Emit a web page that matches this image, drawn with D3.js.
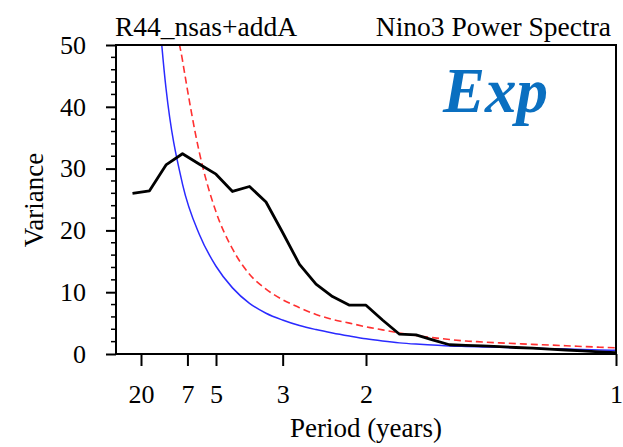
<!DOCTYPE html>
<html lang="en">
<head>
<meta charset="UTF-8">
<title>Nino3 Power Spectra</title>
<script src="https://cdn.jsdelivr.net/npm/d3@7"></script>
<style>
    body { margin: 0; background: #fff; }
    svg text { font-family: "Liberation Serif", "Times New Roman", Times, "DejaVu Serif", serif !important; fill: #000; }
</style>
</head>
<body>
<div id="chart"></div>
<script>
// frequency (cycles/year) of each spectral estimate
const freq = [0.033, 0.067, 0.100, 0.133, 0.167, 0.200, 0.233, 0.267, 0.300, 0.333,
              0.367, 0.400, 0.433, 0.467, 0.500, 0.533, 0.567, 0.600, 0.633, 0.667,
              0.700, 0.733, 0.767, 0.800, 0.833, 0.867, 0.900, 0.933, 0.967, 1.000];

// model spectrum (black)
const spectrum = [26.0, 26.4, 30.6, 32.4, 30.7, 29.1, 26.3, 27.1, 24.6, 19.7,
                  14.5, 11.3, 9.3, 7.9, 7.9, 5.5, 3.2, 3.1, 2.3, 1.5,
                  1.4, 1.3, 1.2, 1.05, 0.95, 0.8, 0.65, 0.5, 0.35, 0.2];

// red noise spectrum (blue); first value above the plot
const redNoise = [null, 75, 43, 27.5, 19.3, 14.2, 10.7, 8.2, 6.6, 5.5,
                  4.6, 3.95, 3.4, 2.9, 2.45, 2.1, 1.8, 1.6, 1.45, 1.3,
                  1.22, 1.15, 1.08, 1.0, 0.93, 0.86, 0.8, 0.72, 0.66, 0.6];

// 95% confidence (red dashed)
const conf95 = [null, 130, 65, 47.5, 32.5, 23, 17.0, 12.9, 10.5, 8.8,
                7.5, 6.4, 5.6, 5.0, 4.4, 3.9, 3.4, 3.0, 2.65, 2.35,
                2.1, 1.95, 1.8, 1.68, 1.56, 1.45, 1.34, 1.22, 1.1, 1.0];

const periodTicks = [20, 7, 5, 3, 2, 1];
const varTicks = [0, 10, 20, 30, 40, 50];
const varMinor = [2, 4, 6, 8, 12, 14, 16, 18, 22, 24, 26, 28, 32, 34, 36, 38, 42, 44, 46, 48];

const W = 623, H = 447;
const m = { left: 116, right: 616, top: 45, bottom: 354 };
const serif = "'Liberation Serif', 'Times New Roman', Times, 'DejaVu Serif', serif";

const svg = d3.select("#chart").append("svg")
    .attr("width", W)
    .attr("height", H)
    .attr("font-family", serif);

const x = d3.scaleLinear().domain([0, 1]).range([m.left, m.right]);
const y = d3.scaleLinear().domain([0, 50]).range([m.bottom, m.top]);

svg.append("defs").append("clipPath")
    .attr("id", "plotClip")
    .append("rect")
    .attr("x", m.left).attr("y", m.top)
    .attr("width", m.right - m.left).attr("height", m.bottom - m.top);

const plot = svg.append("g").attr("clip-path", "url(#plotClip)");

function lineFor(values, curve) {
    return d3.line()
        .defined((d, i) => values[i] != null)
        .x((d, i) => x(freq[i]))
        .y((d, i) => y(values[i]))
        .curve(curve)(values);
}

plot.append("path")
    .attr("d", lineFor(redNoise, d3.curveMonotoneX))
    .attr("fill", "none")
    .attr("stroke", "#2a2aff")
    .attr("stroke-width", 1.5);

plot.append("path")
    .attr("d", lineFor(conf95, d3.curveMonotoneX))
    .attr("fill", "none")
    .attr("stroke", "#ff3030")
    .attr("stroke-width", 1.6)
    .attr("stroke-dasharray", "7,4");

plot.append("path")
    .attr("d", lineFor(spectrum, d3.curveLinear))
    .attr("fill", "none")
    .attr("stroke", "#000")
    .attr("stroke-width", 2.8)
    .attr("stroke-linejoin", "round");

// frame
svg.append("rect")
    .attr("x", m.left).attr("y", m.top)
    .attr("width", m.right - m.left).attr("height", m.bottom - m.top)
    .attr("fill", "none")
    .attr("stroke", "#000")
    .attr("stroke-width", 2);

// y axis
const yAxis = svg.append("g").attr("transform", `translate(${m.left},0)`)
    .call(d3.axisLeft(y).tickValues(varTicks).tickSize(10).tickPadding(20).tickFormat(d3.format("d")));
yAxis.attr("font-family", serif).attr("font-size", 26);
yAxis.select(".domain").remove();
yAxis.selectAll(".tick line").attr("stroke", "#000").attr("stroke-width", 2);
yAxis.selectAll(".tick text").attr("fill", "#000");

svg.append("g").selectAll("line").data(varMinor).join("line")
    .attr("x1", m.left - 5).attr("x2", m.left)
    .attr("y1", d => y(d)).attr("y2", d => y(d))
    .attr("stroke", "#000").attr("stroke-width", 1.5);

// x axis (period labels at 1/period)
const xAxis = svg.append("g").attr("transform", `translate(0,${m.bottom})`)
    .call(d3.axisBottom(x).tickValues(periodTicks.map(p => 1 / p)).tickSize(12).tickPadding(19)
        .tickFormat((d, i) => periodTicks[i]));
xAxis.attr("font-family", serif).attr("font-size", 26);
xAxis.select(".domain").remove();
xAxis.selectAll(".tick line").attr("stroke", "#000").attr("stroke-width", 2);
xAxis.selectAll(".tick text").attr("fill", "#000");

// titles
svg.append("text")
    .attr("x", 366).attr("y", 437)
    .attr("text-anchor", "middle")
    .attr("font-size", 27)
    .text("Period (years)");

svg.append("text")
    .attr("transform", "translate(43,200) rotate(-90)")
    .attr("text-anchor", "middle")
    .attr("font-size", 27)
    .text("Variance");

svg.append("text")
    .attr("x", 115).attr("y", 36)
    .attr("font-size", 27.5)
    .text("R44_nsas+addA");

svg.append("text")
    .attr("x", 611).attr("y", 36)
    .attr("text-anchor", "end")
    .attr("font-size", 27.5)
    .text("Nino3 Power Spectra");

svg.append("text")
    .attr("x", 443).attr("y", 112)
    .attr("font-size", 63)
    .attr("font-weight", "bold")
    .attr("font-style", "italic")
    .style("fill", "#0a6fc0")
    .text("Exp");
</script>
</body>
</html>
